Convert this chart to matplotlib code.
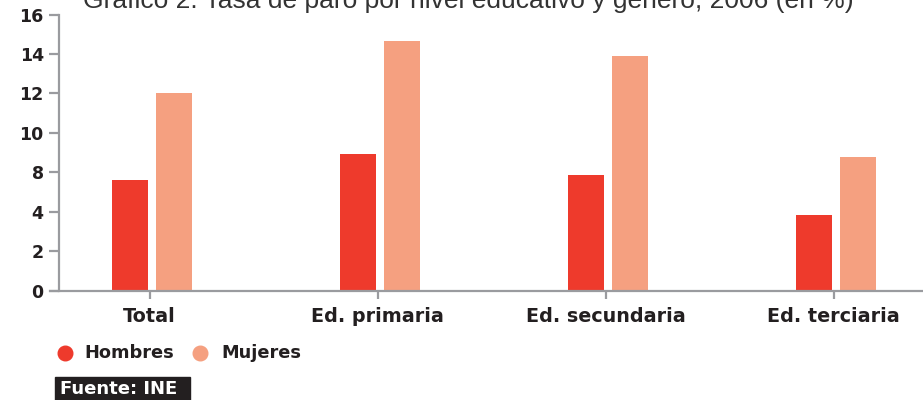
import matplotlib
matplotlib.use("Agg")
import matplotlib.pyplot as plt
import numpy as np
from matplotlib.lines import Line2D

# Data
categories = ["Total", "Ed. primaria", "Ed. secundaria", "Ed. terciaria"]
hombres = [5.6, 6.93, 5.86, 3.83]
mujeres = [10.0, 12.66, 11.9, 6.77]
series_names = ["Hombres", "Mujeres"]
ytick_pos = [0, 2, 4, 6, 8, 10, 12, 14]
ytick_labels = ["0", "2", "4", "8", "10", "12", "14", "16"]
title = "Gráfico 2: Tasa de paro por nivel educativo y género, 2006 (en %)"
source = "Fuente: INE"

RED = "#EE3A2C"
SALMON = "#F5A080"
AXIS = "#9A9B9F"
TEXT = "#231F20"

W, H = 923, 400
fig = plt.figure(figsize=(W / 100, H / 100), dpi=100)
fig.patch.set_facecolor("white")

ax = fig.add_axes([59 / W, (H - 290.5) / H, 864 / W, 276 / H])
x = np.arange(len(categories))
bw = 0.162
off = 0.0965
ax.bar(x - off, hombres, width=bw, color=RED, zorder=2)
ax.bar(x + off, mujeres, width=bw, color=SALMON, zorder=2)

ax.set_xlim((59 - 152) / 228, (923 - 152) / 228)
ax.set_ylim(0, 14)

for s in ["top", "right", "bottom"]:
    ax.spines[s].set_visible(False)
ax.spines["left"].set_color(AXIS)
ax.spines["left"].set_linewidth(1.6)

# baseline runs slightly past the vertical axis on the left
fig.add_artist(Line2D([50 / W, 1.0], [(H - 290.5) / H] * 2,
                      color=AXIS, lw=1.6, transform=fig.transFigure))

ax.set_yticks(ytick_pos)
ax.set_yticklabels(ytick_labels)
ax.set_xticks(x - 0.01)
ax.set_xticklabels(categories)
ax.tick_params(axis="y", length=7, width=1.6, color=AXIS, pad=4,
               labelsize=12.5, labelcolor=TEXT)
ax.tick_params(axis="x", length=6, width=1.6, color=AXIS, pad=6,
               labelsize=13.8, labelcolor=TEXT)
for lab in ax.get_yticklabels() + ax.get_xticklabels():
    lab.set_fontweight("heavy")
    lab.set_family("DejaVu Sans")

fig.text(468 / W, (H - 8) / H, title, ha="center", va="baseline",
         fontsize=19, color="#333333", family="Liberation Sans")

# legend
leg_y = (H - 353) / H
for cx, tx, col, name in [(65, 84, RED, series_names[0]),
                          (200, 221, SALMON, series_names[1])]:
    fig.add_artist(Line2D([cx / W], [leg_y], marker="o", markersize=10.5,
                          color=col, transform=fig.transFigure, linestyle=""))
    fig.text(tx / W, leg_y, name, ha="left", va="center", fontsize=12.8,
             fontweight="heavy", color=TEXT, family="DejaVu Sans")

# source box
fig.patches.append(plt.Rectangle((55 / W, 0), 135 / W, 23 / H,
                                 transform=fig.transFigure, color="#231F20",
                                 zorder=1))
fig.text(60 / W, 11.5 / H, source, ha="left", va="center", fontsize=13,
         fontweight="heavy", color="white", family="DejaVu Sans", zorder=2)

fig.savefig("out.png", dpi=100, facecolor="white")
